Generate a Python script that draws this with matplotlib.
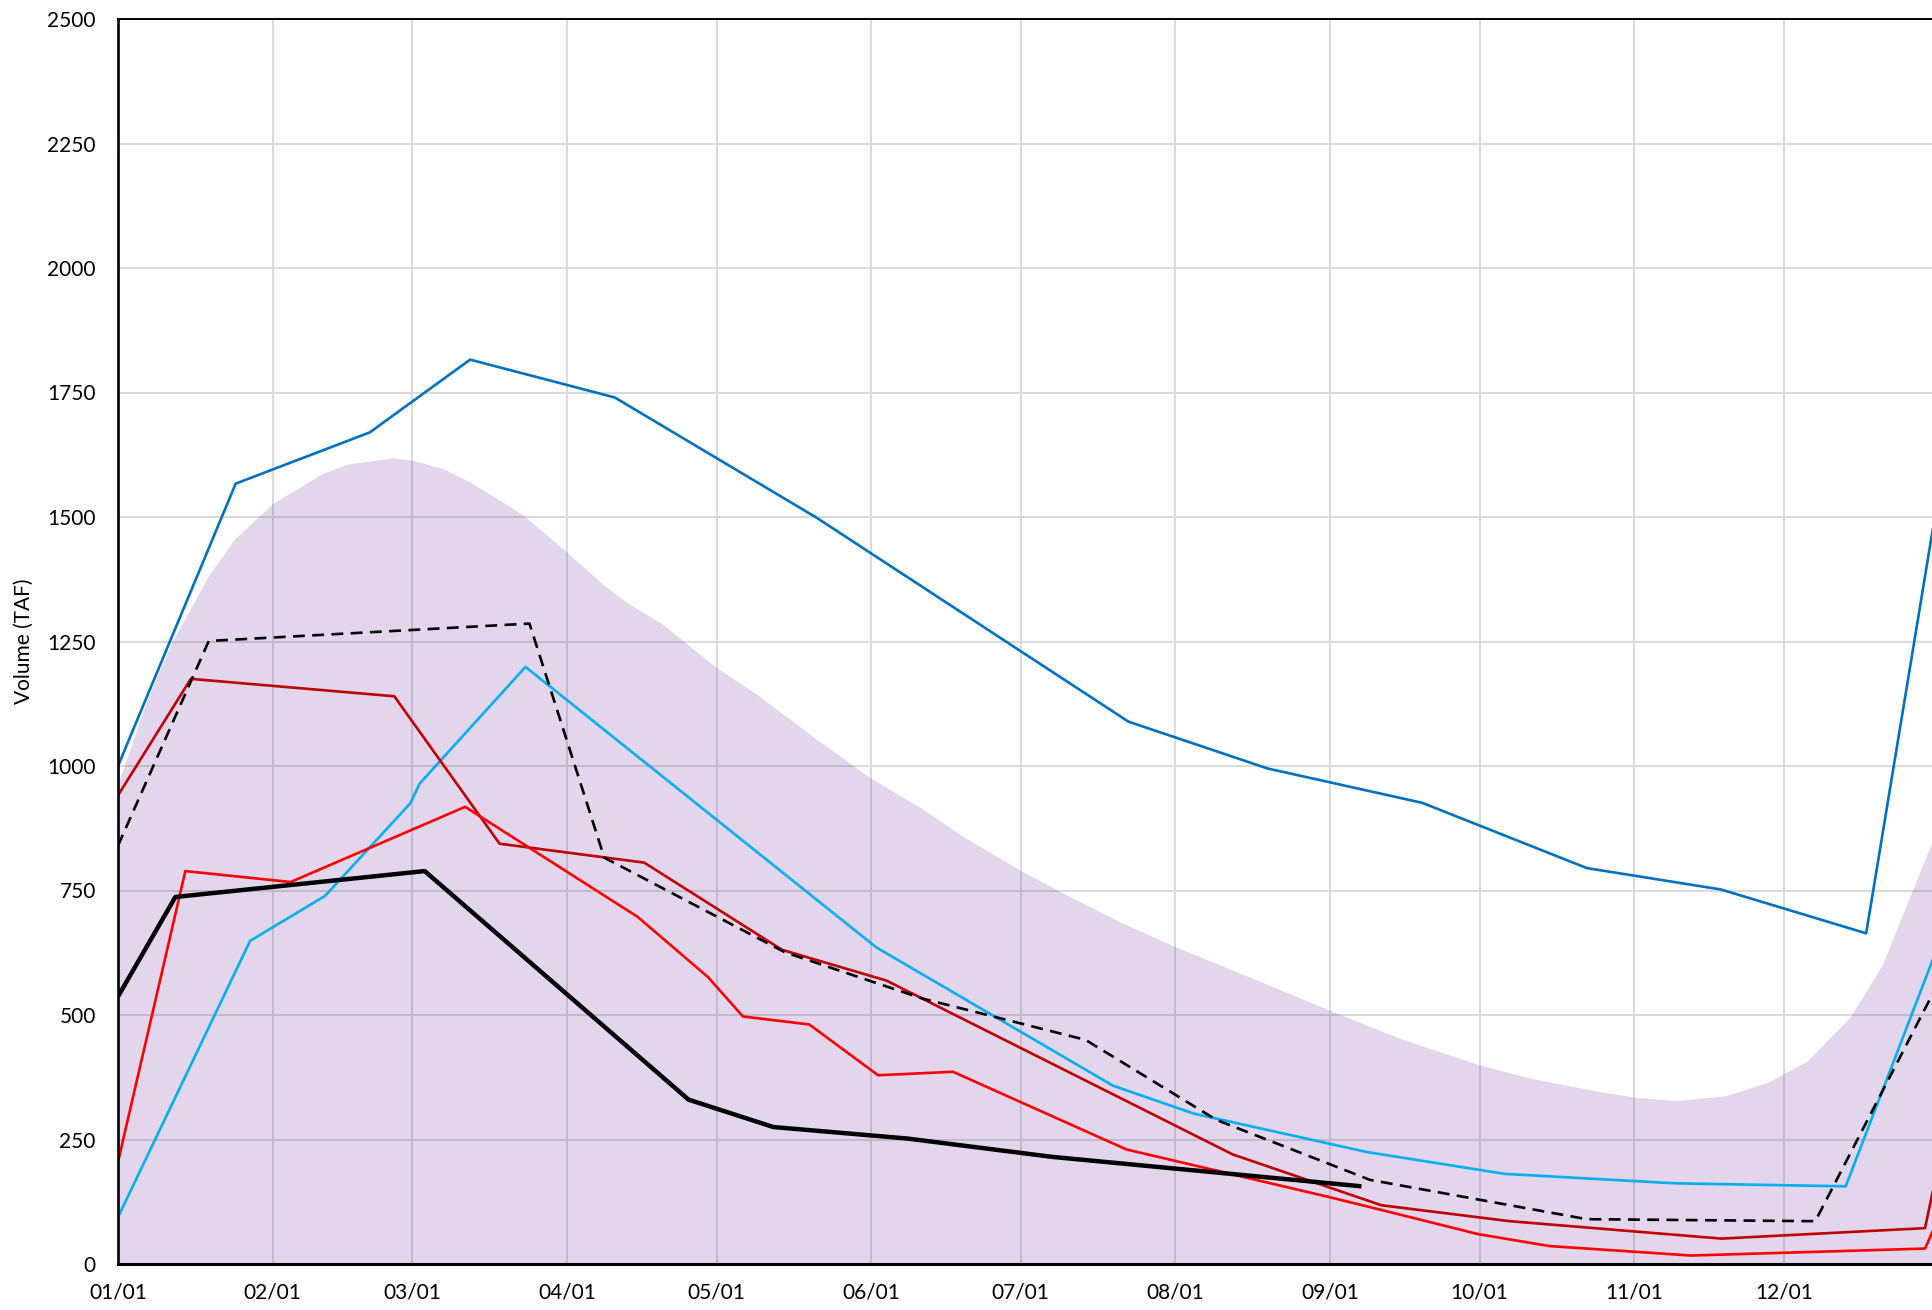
import matplotlib
matplotlib.use("Agg")
import matplotlib.pyplot as plt

plt.rcParams['font.family'] = ['Lato', 'DejaVu Sans']

# ---- data (x = day of year, Jan 1 = 0) ----
month_days = [0, 31, 59, 90, 120, 151, 181, 212, 243, 273, 304, 334]
month_labels = ["01/01", "02/01", "03/01", "04/01", "05/01", "06/01",
                "07/01", "08/01", "09/01", "10/01", "11/01", "12/01"]
y_ticks = [0, 250, 500, 750, 1000, 1250, 1500, 1750, 2000, 2250, 2500]

band_x = [0, 5.8, 10.8, 15.1, 18, 23.3, 31, 35.5, 40.9, 45.9, 55.2, 59, 65.2, 70.6,
          78.1, 81.7, 89.6, 97.4, 102.4, 109, 119.8, 127.9, 140.7, 151, 160.8, 169.5,
          181, 188.9, 200.9, 212, 225, 242.8, 257, 272.9, 283.7, 297.1, 304.1, 312.5,
          322.4, 330.8, 338.7, 347.2, 353.7, 365]
band_y = [965, 1132, 1249, 1326, 1380, 1455, 1527, 1554, 1587, 1606, 1619, 1614, 1597, 1570,
          1524, 1500, 1433, 1363, 1326, 1286, 1199, 1145, 1049, 975, 917, 858,
          790, 748, 687, 637, 584, 510, 453, 400, 372, 346, 335, 328,
          338, 365, 408, 495, 600, 880]

dblue_x = [0, 23.6, 50.5, 70.6, 99.6, 140, 202.6, 230.5, 261.5, 294.5, 321.4, 350.5, 365]
dblue_y = [1000, 1567, 1670, 1816, 1740, 1499, 1089, 995, 926, 795, 752, 664, 1545]

lblue_x = [0, 26.5, 41.5, 58.6, 60.5, 81.7, 152, 199.5, 215.7, 250.3, 278, 312.2, 346.4, 365]
lblue_y = [94, 649, 739, 925, 965, 1199, 636, 358, 302, 225, 181, 162, 156, 641]

dash_x = [0, 18.2, 82.5, 97.5, 133.7, 161.3, 194, 220.3, 251, 273, 294.5, 340.3, 365]
dash_y = [840, 1251, 1286, 816, 626, 533, 450, 289, 169, 129, 90, 86, 565]

dred_x = [0, 14.6, 55.4, 76.5, 105.5, 133.1, 154.1, 223.5, 253.3, 279, 321.5, 362.3, 365]
dred_y = [941, 1175, 1140, 844, 806, 631, 569, 220, 118, 86, 51, 72, 200]

red_x = [0, 13.5, 34.6, 69.6, 104.2, 118.3, 125.3, 138.6, 152.4, 167.4, 202.2, 243,
         252.3, 272.7, 287, 315.4, 362.3, 365]
red_y = [205, 789, 767, 918, 697, 576, 497, 481, 379, 386, 230, 134,
         111, 60, 36, 17, 31, 92]

blk_x = [0, 11.5, 61.5, 114.4, 131.4, 158.2, 187.4, 249.3]
blk_y = [537, 737, 789, 330, 275, 252, 215, 156]

# ---- figure ----
W, H, DPI = 1932, 1310, 100
fig = plt.figure(figsize=(W / DPI, H / DPI), dpi=DPI)
left, right = 118 / W, 1.0
bottom, top = 1 - 1264 / H, 1 - 19 / H
ax = fig.add_axes([left, bottom, right - left, top - bottom])

ax.set_axisbelow(True)
ax.grid(True, color='#d9d9d9', linewidth=1.4)

ax.fill_between(band_x, 0, band_y, color='#7030A0', alpha=0.2, linewidth=0, zorder=1)

kw = dict(solid_joinstyle='round', solid_capstyle='butt')
ax.plot(dblue_x, dblue_y, color='#0070C0', lw=1.9, zorder=3, **kw)
ax.plot(lblue_x, lblue_y, color='#00B0F0', lw=1.9, zorder=3, **kw)
ax.plot(dred_x, dred_y, color='#C00000', lw=1.9, zorder=3, **kw)
ax.plot(red_x, red_y, color='#FF0000', lw=1.9, zorder=3, **kw)
ax.plot(dash_x, dash_y, color='black', lw=1.9, linestyle=(0, (4.5, 2.8)), zorder=4)
ax.plot(blk_x, blk_y, color='black', lw=3.2, zorder=5, **kw)

ax.set_xlim(0, 363.7)
ax.set_ylim(0, 2500)
ax.set_xticks(month_days)
ax.set_xticklabels(month_labels)
ax.set_yticks(y_ticks)
ax.set_yticklabels([str(v) for v in y_ticks])
ax.tick_params(axis='both', length=0, labelsize=15)
ax.tick_params(axis='x', pad=13)
ax.tick_params(axis='y', pad=16)

ax.spines['right'].set_visible(False)
ax.spines['top'].set_linewidth(1.4)
ax.spines['left'].set_linewidth(1.9)
ax.spines['bottom'].set_linewidth(2.2)
for s in ['top', 'left', 'bottom']:
    ax.spines[s].set_color('black')
    ax.spines[s].set_zorder(6)

ax.set_ylabel("Volume (TAF)", fontsize=15)
ax.yaxis.set_label_coords(-0.0466, 0.5)

fig.savefig("out.png", dpi=DPI)
